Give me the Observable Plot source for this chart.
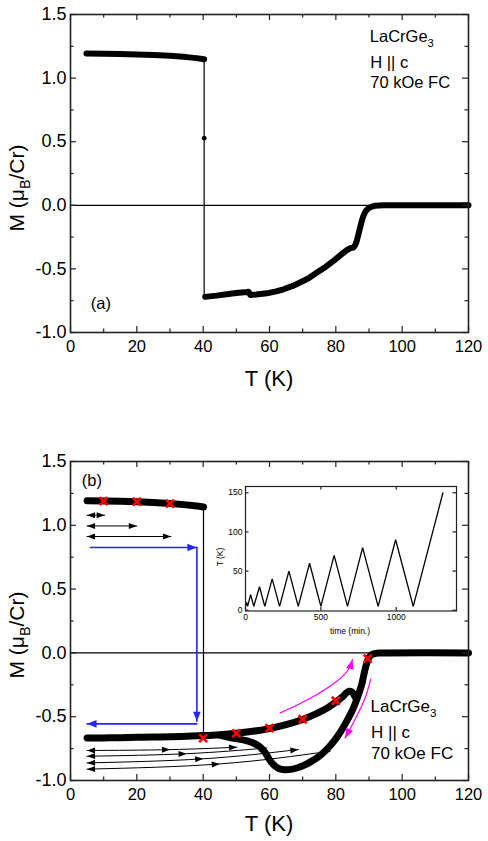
<!DOCTYPE html>
<html><head><meta charset="utf-8">
<script src="https://cdn.jsdelivr.net/npm/d3@7"></script>
<script src="https://cdn.jsdelivr.net/npm/@observablehq/plot@0.6"></script>
<style>
body{margin:0;background:#fff;font-family:"Liberation Sans",Arial,sans-serif}
#wrap{position:relative;width:488px;height:841px;overflow:hidden}
#wrap svg{display:block}
#inset{position:absolute;left:200px;top:470px}
</style></head><body>
<div id="wrap"><div id="pa"></div><div id="pb"></div><div id="inset"></div></div>
<script>
// ---------- data ----------
const xTicks = [0, 20, 40, 60, 80, 100, 120];
const xMinorTicks = [10, 30, 50, 70, 90, 110];
const yTicks = [-1, -0.5, 0, 0.5, 1, 1.5];
const yMinorTicks = [-0.75, -0.25, 0.25, 0.75, 1.25];
const insetXTicks = [0, 500, 1000];
const insetYTicks = [0, 50, 100, 150];

// panel (a): [T (K), M (muB/Cr)]
const aUpper = [[4.8,1.193],[10,1.192],[15,1.19],[20,1.186],[25,1.181],[30,1.175],[35,1.165],[38,1.157],[40.3,1.148]];
const aJump = [[40.3,1.148],[40.3,-0.718]];
const aJumpPoint = [[40.3,0.528]];
const aLower = [[40.6,-0.72],[44,-0.71],[47.1,-0.699],[50,-0.69],[53.2,-0.682],[53.7,-0.68],[54.2,-0.705],[56,-0.701],[59.2,-0.692],[62,-0.677],[64.2,-0.66],[67,-0.634],[69.2,-0.607],[72,-0.57],[74.3,-0.529],[77,-0.483],[79.3,-0.437],[81.5,-0.39],[83.3,-0.353],[84.3,-0.338],[85.3,-0.333],[85.9,-0.31],[86.3,-0.28],[86.8,-0.23],[87.3,-0.176],[87.8,-0.125],[88.3,-0.084],[89,-0.045],[89.8,-0.024],[90.8,-0.01],[91.9,-0.004],[94.4,0],[120,0]];

// panel (b)
const bUpper = [[5,1.192],[10,1.19],[15,1.188],[20,1.184],[25,1.178],[30,1.17],[35,1.16],[38,1.152],[40.1,1.143]];
const bJump = [[40.1,1.143],[40.1,-0.665]];
const bWarm = [[5,-0.667],[10,-0.666],[15,-0.664],[20,-0.662],[25,-0.66],[30,-0.657],[35,-0.653],[40,-0.648],[45,-0.641],[50,-0.63],[55,-0.614],[60,-0.593],[65,-0.563],[70,-0.522],[74,-0.478],[77,-0.438],[80,-0.385],[82,-0.345],[83.2,-0.312],[84,-0.3],[84.8,-0.305],[85.4,-0.325],[85.9,-0.35]];
const bLoop = [[45,-0.645],[47.5,-0.66],[50,-0.672],[53,-0.688],[55.3,-0.708],[57.3,-0.74],[58.8,-0.785],[60.2,-0.845],[61.6,-0.885],[63,-0.908],[64.5,-0.916],[66.5,-0.913],[68.5,-0.9],[70.5,-0.88],[72.5,-0.852],[75,-0.81],[77.5,-0.75],[79.5,-0.69],[81.5,-0.615],[83.3,-0.535],[85,-0.45],[86.3,-0.366],[87.1,-0.305],[87.8,-0.248],[88.3,-0.19],[88.8,-0.13],[89.4,-0.075],[89.9,-0.039],[90.6,-0.018],[91.4,-0.008],[93,-0.001],[95,0],[120,0]];
const redMarks = [[10,1.19],[20,1.185],[30,1.17],[40,-0.668],[50,-0.63],[60,-0.59],[70,-0.52],[80,-0.375],[89.6,-0.045]];

// thin arrows (panel b)
const upperArrows = [
  [[5,1.079],[10.3,1.079]],
  [[5,0.995],[20,0.995]],
  [[5,0.912],[30.3,0.912]]
];
const lowerArrows = [
  [[5,-0.765],[30,-0.758],[50.2,-0.739]],
  [[5,-0.81],[35,-0.79],[59.2,-0.745]],
  [[5,-0.862],[40,-0.83],[68.7,-0.757]],
  [[5,-0.911],[45,-0.87],[78.3,-0.77]]
];
const blueArrows = [
  [[6,0.826],[38.1,0.826]],
  [[38.1,0.826],[38.1,-0.535]],
  [[38.1,-0.556],[5,-0.556]]
];
const magentaArrows = [
  [[63.2,-0.47],[69,-0.4],[74.3,-0.326],[80.3,-0.222],[83.8,-0.13],[85,-0.052]],
  [[90.5,-0.205],[89.4,-0.31],[88,-0.405],[85.5,-0.535],[82.8,-0.666]]
];

// inset: temperature protocol
const insetTime = [0, 7, 14, 34, 55, 93, 128, 177, 226, 288, 350, 425, 500, 588, 677, 777, 880, 996, 1113, 1310];
const insetTemp = [5, 10, 5, 20, 5, 30, 5, 40, 5, 50, 5, 60, 5, 70, 5, 80, 5, 90, 5, 150];

// ---------- helpers ----------
const FONT = "Liberation Sans, Arial, Helvetica, sans-serif";
const rows = (pts) => pts.map(p => ({T: p[0], M: p[1]}));
const paths = (arr) => arr.flatMap((pts, i) => pts.map(p => ({id: i, T: p[0], M: p[1]})));

function frameTicks(innerW, innerH, xs, xm, ys, ym, major, minor, color) {
  const o = {stroke: color, strokeWidth: 1.2};
  return [
    Plot.tickX(xs, {x: d => d, insetTop: innerH - major, ...o}),
    Plot.tickX(xs, {x: d => d, insetBottom: innerH - major, ...o}),
    Plot.tickX(xm, {x: d => d, insetTop: innerH - minor, ...o}),
    Plot.tickX(xm, {x: d => d, insetBottom: innerH - minor, ...o}),
    Plot.tickY(ys, {y: d => d, insetRight: innerW - major, ...o}),
    Plot.tickY(ys, {y: d => d, insetLeft: innerW - major, ...o}),
    Plot.tickY(ym, {y: d => d, insetRight: innerW - minor, ...o}),
    Plot.tickY(ym, {y: d => d, insetLeft: innerW - minor, ...o})
  ];
}

function fixMarkers(svg, len, half) {
  svg.querySelectorAll("marker").forEach(m => {
    const c = m.getAttribute("stroke") || "black";
    m.removeAttribute("viewBox");
    m.setAttribute("markerUnits", "userSpaceOnUse");
    m.setAttribute("overflow", "visible");
    m.setAttribute("markerWidth", "1");
    m.setAttribute("markerHeight", "1");
    m.setAttribute("refX", "0");
    m.setAttribute("refY", "0");
    m.setAttribute("fill", c);
    m.setAttribute("stroke", "none");
    const big = c !== "black" && c !== "#000" && c !== "#000000";
    const L = big ? len + 1.5 : len, H = big ? half + 0.8 : half;
    m.querySelector("path").setAttribute("d", `M${-L},${-H}L0,0L${-L},${H}Z`);
  });
}

function addLabel(svg, x, y, parts, size, rotate) {
  const t = d3.select(svg).append("text")
    .attr("font-family", FONT).attr("font-size", size).attr("fill", "black")
    .attr("text-anchor", rotate ? "middle" : "start");
  if (rotate) t.attr("transform", `translate(${x},${y}) rotate(-90)`);
  else t.attr("x", x).attr("y", y);
  for (const p of parts) {
    const s = t.append("tspan").text(p.text);
    if (p.sub) s.attr("font-size", size * 0.68).attr("dy", size * 0.28);
    if (p.back) s.attr("dy", -size * 0.28);
  }
  return t;
}

const W = 488, ML = 70, MR = 20;

function panel({height, mt, mb, marks}) {
  const innerH = height - mt - mb, innerW = W - ML - MR;
  return Plot.plot({
    width: W, height, marginLeft: ML, marginRight: MR, marginTop: mt, marginBottom: mb,
    style: {fontFamily: FONT, background: "transparent", color: "black"},
    x: {domain: [0, 120]},
    y: {domain: [-1, 1.5]},
    marks: [
      Plot.ruleY([0], {stroke: "black", strokeWidth: 1.3}),
      ...marks,
      ...frameTicks(innerW, innerH, xTicks, xMinorTicks, yTicks, yMinorTicks, 6, 3.5, "#222"),
      Plot.frame({stroke: "#222", strokeWidth: 1.6}),
      Plot.axisX(xTicks, {tickSize: 0, tickPadding: 8, fontSize: 16.5, label: null}),
      Plot.axisY(yTicks, {tickSize: 0, tickPadding: 4, fontSize: 18, label: null, tickFormat: d => d.toFixed(1)})
    ]
  });
}

const thickOpts = (w) => ({x: "T", y: "M", stroke: "black", strokeWidth: w, strokeLinecap: "round", strokeLinejoin: "round"});
const txt = (size) => ({text: d => d, textAnchor: "start", lineAnchor: "bottom", fontSize: size, fill: "black"});

// ---------- panel (a) ----------
const pa = panel({
  height: 420, mt: 14, mb: 88,
  marks: [
    Plot.line(rows(aJump), {x: "T", y: "M", stroke: "black", strokeWidth: 1.2}),
    Plot.dot(rows(aJumpPoint), {x: "T", y: "M", r: 2.4, fill: "black"}),
    Plot.line(rows(aUpper), thickOpts(6)),
    Plot.line(rows(aLower), thickOpts(6)),
    Plot.text(["H || c", "70 kOe FC"], {x: [90.4, 90.4], y: [1.08, 0.923], ...txt(16.5)}),
    Plot.text(["(a)"], {x: [6.1], y: [-0.815], ...txt(16.5)})
  ]
});
document.getElementById("pa").appendChild(pa);
{
  const sx = pa.scale("x"), sy = pa.scale("y");
  addLabel(pa, sx.apply(90.4), sy.apply(1.276), [{text: "LaCrGe"}, {text: "3", sub: true}], 16.5);
  addLabel(pa, 24, 188, [{text: "M (μ"}, {text: "B", sub: true}, {text: "/Cr)", back: true}], 21, true);
  addLabel(pa, 269, 386, [{text: "T (K)"}], 22).attr("text-anchor", "middle");
}

// ---------- panel (b) ----------
const pb = panel({
  height: 421, mt: 41, mb: 61,
  marks: [
    Plot.line(rows(bJump), {x: "T", y: "M", stroke: "black", strokeWidth: 1.2}),
    Plot.line(rows(bUpper), thickOpts(7)),
    Plot.line(rows(bLoop), {...thickOpts(7), curve: "catmull-rom"}),
    Plot.line(rows(bWarm), {...thickOpts(7), curve: "catmull-rom"}),
    Plot.line(paths(upperArrows), {x: "T", y: "M", z: "id", stroke: "black", strokeWidth: 1, marker: "arrow-reverse"}),
    Plot.line(paths(lowerArrows), {x: "T", y: "M", z: "id", stroke: "black", strokeWidth: 1, curve: "natural", marker: "arrow-reverse"}),
    Plot.line(paths(blueArrows), {x: "T", y: "M", z: "id", stroke: "#2424ff", strokeWidth: 1.6, markerEnd: "arrow"}),
    Plot.line(paths(magentaArrows), {x: "T", y: "M", z: "id", stroke: "#ff00ff", strokeWidth: 1.2, curve: "natural", markerEnd: "arrow"}),
    Plot.dot(rows(redMarks), {x: "T", y: "M", symbol: "times", r: 3.7, stroke: "#ff0000", strokeWidth: 2.6}),
    Plot.text(["H || c", "70 kOe FC"], {x: [90.6, 90.6], y: [-0.666, -0.828], ...txt(17)}),
    Plot.text(["(b)"], {x: [3.4], y: [1.306], ...txt(16.5)})
  ]
});
document.getElementById("pb").appendChild(pb);
fixMarkers(pb, 8, 3);
{
  const sx = pb.scale("x"), sy = pb.scale("y");
  addLabel(pb, sx.apply(90.6), sy.apply(-0.47), [{text: "LaCrGe"}, {text: "3", sub: true}], 17);
  addLabel(pb, 24, 215, [{text: "M (μ"}, {text: "B", sub: true}, {text: "/Cr)", back: true}], 21, true);
  addLabel(pb, 269, 411, [{text: "T (K)"}], 22).attr("text-anchor", "middle");
}

// ---------- inset ----------
const IW = 270, IH = 175, IML = 45, IMR = 14, IMT = 16, IMB = 34.5;
const insetRows = insetTime.map((t, i) => ({t, T: insetTemp[i]}));
const inset = Plot.plot({
  width: IW, height: IH, marginLeft: IML, marginRight: IMR, marginTop: IMT, marginBottom: IMB,
  style: {fontFamily: FONT, background: "transparent", color: "black"},
  x: {domain: [0, 1400]},
  y: {domain: [-1, 158]},
  marks: [
    Plot.frame({fill: "white"}),
    Plot.line(insetRows, {x: "t", y: "T", stroke: "black", strokeWidth: 1.3, strokeLinejoin: "miter"}),
    ...frameTicks(IW - IML - IMR, IH - IMT - IMB, insetXTicks, [], insetYTicks, [], 3.5, 2, "#222"),
    Plot.frame({stroke: "#222", strokeWidth: 1.2}),
    Plot.axisX(insetXTicks, {tickSize: 0, tickPadding: 3, fontSize: 8.5, label: null, tickFormat: d => String(d)}),
    Plot.axisY(insetYTicks, {tickSize: 0, tickPadding: 3, fontSize: 8.5, label: null, tickFormat: d => String(d)})
  ]
});
document.getElementById("inset").appendChild(inset);
addLabel(inset, 150, 164, [{text: "time (min.)"}], 8.5).attr("text-anchor", "middle");
addLabel(inset, 23, 87, [{text: "T (K)"}], 8.5, true);
</script>
</body></html>
